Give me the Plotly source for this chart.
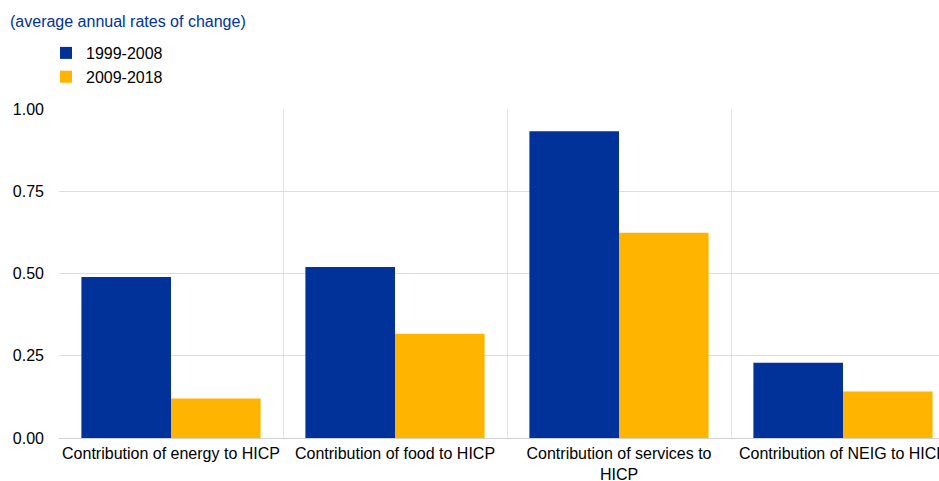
import plotly.graph_objects as go

categories = ["Contribution of energy to HICP", "Contribution of food to HICP",
              "Contribution of services to<br>HICP", "Contribution of NEIG to HICP"]
series_names = ["1999-2008", "2009-2018"]
values_1999_2008 = [0.489, 0.520, 0.932, 0.229]
values_2009_2018 = [0.120, 0.317, 0.624, 0.141]
y_ticks = [0.0, 0.25, 0.5, 0.75, 1.0]
y_tick_labels = ["0.00", "0.25", "0.50", "0.75", "1.00"]

blue = "#003299"
yellow = "#FFB400"
font_family = "Liberation Sans, Arial, sans-serif"

W, H = 939, 481
ML, MT, MB = 59, 109, 43
PW = W - ML
PH = H - MT - MB

fig = go.Figure()
fig.add_trace(go.Bar(x=categories, y=values_1999_2008, name=series_names[0],
                     marker=dict(color=blue, line=dict(width=0))))
fig.add_trace(go.Bar(x=categories, y=values_2009_2018, name=series_names[1],
                     marker=dict(color=yellow, line=dict(width=0))))

fig.update_layout(
    width=W, height=H,
    margin=dict(l=ML, r=0, t=MT, b=MB, pad=0),
    paper_bgcolor="white", plot_bgcolor="white",
    font=dict(family=font_family, size=16, color="#000000"),
    barmode="group", bargap=0.2, bargroupgap=0,
    title=dict(text="(average annual rates of change)", x=10/W, xref="container", xanchor="left",
               y=1 - 21/H, yref="container", yanchor="middle",
               font=dict(family=font_family, size=16, color=blue)),
    legend=dict(x=(46 - ML)/PW, xref="paper", xanchor="left", y=1 + (MT - 36)/PH, yref="paper",
                yanchor="top", orientation="v", font=dict(size=16), bgcolor="rgba(0,0,0,0)",
                tracegroupgap=0),
    xaxis=dict(type="category", range=[-0.5, -0.5 + PW/224], tickson="boundaries",
               showgrid=True, gridcolor="#e3e3e3", gridwidth=1, ticks="", showline=False,
               zeroline=False, tickfont=dict(size=16), tickangle=0, automargin=False,
               ticklabelstandoff=4),
    yaxis=dict(range=[0, 1.0], tickvals=y_ticks, ticktext=y_tick_labels, showgrid=True,
               gridcolor="#dcdcdc", gridwidth=1, zeroline=True, zerolinecolor="#d0d0d0",
               zerolinewidth=1, ticks="", ticklabelstandoff=14, tickfont=dict(size=16),
               automargin=False),
)

fig.write_html(
    "out.html",
    config={"displayModeBar": False},
    post_script="document.body.style.margin='0';document.body.style.overflow='hidden';",
)
